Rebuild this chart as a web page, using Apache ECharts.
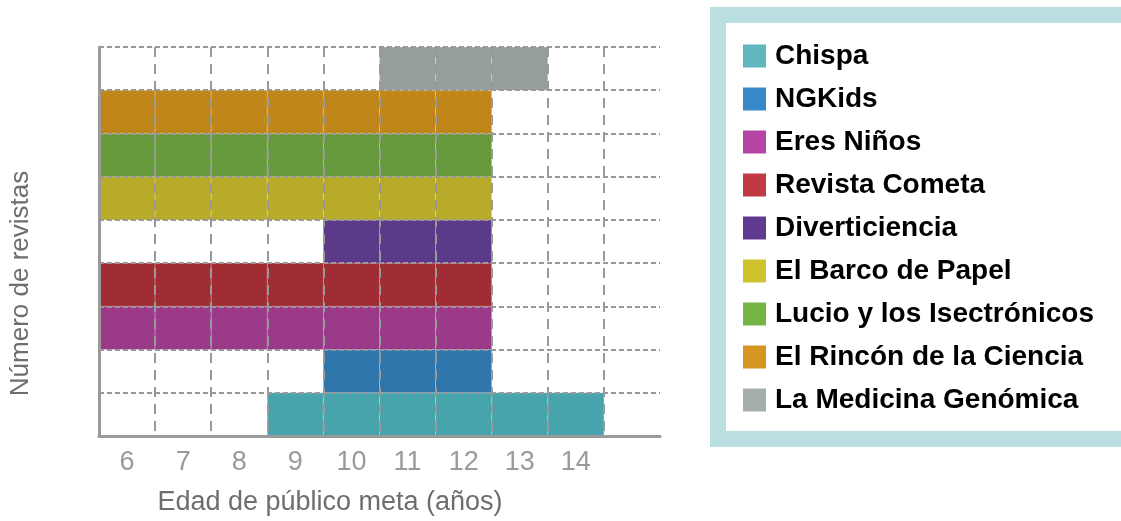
<!DOCTYPE html>
<html>
<head>
<meta charset="utf-8">
<script src="https://cdn.jsdelivr.net/npm/echarts@6/dist/echarts.min.js"></script>
<style>
  html, body { margin: 0; padding: 0; background: #fff; }
  #chart { width: 1121px; height: 521px; }
</style>
</head>
<body>
<div id="chart"></div>
<script>
// age columns (last one is an empty column)
const ages = ['6', '7', '8', '9', '10', '11', '12', '13', '14', '']
const magazines = ['Chispa', 'NGKids', 'Eres Niños', 'Revista Cometa', 'Diverticiencia',
  'El Barco de Papel', 'Lucio y los Isectrónicos', 'El Rincón de la Ciencia', 'La Medicina Genómica']
const startAge = [9, 10, 6, 6, 10, 6, 6, 6, 11]
const endAge = [14, 12, 12, 12, 12, 12, 12, 12, 13]
const rows = ['1', '2', '3', '4', '5', '6', '7', '8', '9']

const barColors = ['#48a4ac', '#2f76ad', '#9a3a88', '#a02d33', '#5c3a8a', '#b8ab29', '#679a3c', '#c0861a', '#969f9b']
const legendColors = ['#5fb6be', '#3688c8', '#b545a5', '#c03a42', '#5f3a90', '#d1c22f', '#75b545', '#d69520', '#a6aeaa']

const FONT = '"Liberation Sans", Arial, sans-serif'

function renderCells(params, api) {
  const s = api.value(0)
  const e = api.value(1)
  const r = api.value(2)
  const size = api.size([1, 1])
  const children = []
  for (let a = s; a <= e; a++) {
    const c = api.coord([a, r])
    children.push({
      type: 'rect',
      shape: { x: c[0] - size[0] / 2, y: c[1] - size[1] / 2, width: size[0], height: size[1] },
      style: { fill: api.visual('color'), stroke: 'rgba(255,255,255,0.22)', lineWidth: 1 }
    })
  }
  return { type: 'group', children: children }
}

const chart = echarts.init(document.getElementById('chart'))
chart.setOption({
  animation: false,
  graphic: [{
    type: 'rect',
    shape: { x: 718, y: 15, width: 420, height: 424 },
    style: { fill: '#fff', stroke: '#b9dfe1', lineWidth: 16 },
    z: -10
  }],
  legend: {
    orient: 'vertical',
    left: 743,
    top: 42,
    padding: 0,
    itemWidth: 23,
    itemHeight: 23,
    itemGap: 15,
    icon: 'rect',
    selectedMode: false,
    textStyle: { fontFamily: FONT, fontSize: 28, fontWeight: 'bold', color: '#000', lineHeight: 28, padding: [0, 0, 0, 4] },
    data: magazines.map((m, i) => ({ name: m, itemStyle: { color: legendColors[i] } }))
  },
  grid: { left: 97, right: 461, top: 47, bottom: 83 },
  xAxis: {
    type: 'category',
    data: ages,
    z: 5,
    name: 'Edad de público meta (años)',
    nameLocation: 'middle',
    nameGap: 53,
    nameTextStyle: { fontFamily: FONT, fontSize: 27, color: '#6e6e6e', padding: [0, 99, 0, 0] },
    axisLine: { lineStyle: { color: '#9a9a9a', width: 3 } },
    axisTick: { show: false },
    axisLabel: { fontFamily: FONT, fontSize: 27, color: '#9a9a9a', margin: 13 },
    splitLine: { show: true, showMinLine: false, showMaxLine: false, lineStyle: { color: '#999', width: 2, type: [10, 7] } }
  },
  yAxis: {
    type: 'category',
    data: rows,
    z: 5,
    name: 'Número de revistas',
    nameLocation: 'middle',
    nameGap: 65,
    nameTextStyle: { fontFamily: FONT, fontSize: 26, color: '#6e6e6e', padding: [0, 84, 0, 0] },
    axisLine: { lineStyle: { color: '#9a9a9a', width: 3 } },
    axisTick: { show: false },
    axisLabel: { show: false },
    splitLine: { show: true, lineStyle: { color: '#999', width: 2, type: [5, 3] } }
  },
  series: magazines.map((m, i) => ({
    name: m,
    type: 'custom',
    z: 1,
    itemStyle: { color: barColors[i] },
    encode: { x: [0, 1], y: 2 },
    renderItem: renderCells,
    data: [[ages.indexOf(String(startAge[i])), ages.indexOf(String(endAge[i])), i]]
  }))
})
</script>
</body>
</html>
